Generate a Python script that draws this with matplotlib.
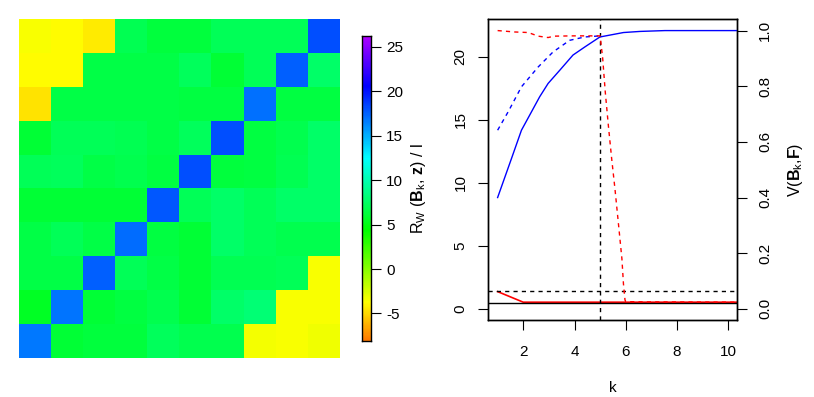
import numpy as np
import matplotlib
matplotlib.use("Agg")
import matplotlib.pyplot as plt
from matplotlib.colors import ListedColormap, hsv_to_rgb

plt.rcParams['font.family'] = ['Liberation Sans', 'DejaVu Sans']
plt.rcParams['mathtext.fontset'] = 'custom'
plt.rcParams['mathtext.rm'] = 'Liberation Sans'
plt.rcParams['mathtext.bf'] = 'Liberation Sans:bold'
plt.rcParams['mathtext.it'] = 'Liberation Sans'

# heatmap values, rows from top to bottom
R_matrix = [
    [-3.6, -3.9, -4.4, 7.0, 6.3, 6.3, 7.1, 7.1, 7.1, 18.1],
    [-3.9, -3.9, 6.6, 6.6, 6.6, 7.3, 6.0, 7.1, 17.5, 7.65],
    [-4.7, 6.6, 6.6, 6.6, 6.6, 6.5, 6.5, 17.0, 6.5, 6.5],
    [6.0, 7.1, 7.1, 7.0, 6.6, 7.2, 18.1, 6.5, 6.8, 7.6],
    [7.1, 7.2, 6.6, 6.8, 6.5, 18.1, 6.3, 6.5, 7.0, 7.6],
    [6.0, 6.0, 6.0, 6.0, 17.8, 7.1, 7.6, 7.1, 7.6, 7.65],
    [6.6, 7.1, 6.6, 17.2, 6.5, 6.0, 7.6, 7.1, 6.8, 6.8],
    [6.6, 6.6, 17.5, 7.1, 6.6, 6.0, 7.0, 7.0, 7.1, -3.6],
    [5.5, 16.9, 6.0, 6.5, 6.8, 6.0, 7.65, 8.1, -3.6, -3.6],
    [16.8, 6.0, 6.3, 6.3, 7.3, 6.8, 6.8, -3.5, -3.6, -3.4],
]
zmin, zmax = -8.1, 26.2
cbar_ticks = [-5, 0, 5, 10, 15, 20, 25]

# right panel curves (V on right axis)
k_solid = [1.0, 1.54, 1.93, 2.25, 2.64, 2.97, 3.43, 3.94, 4.4, 4.99, 5.91, 6.56, 7.53, 8.5, 10.36]
v_solid = [0.40, 0.54, 0.642, 0.696, 0.762, 0.81, 0.858, 0.912, 0.941, 0.977, 0.993, 0.997, 1.0, 1.0, 1.0]
k_dash = [1.0, 1.41, 1.93, 2.58, 3.16, 3.81, 4.4, 5.0]
v_dash = [0.642, 0.708, 0.798, 0.869, 0.923, 0.965, 0.977, 0.981]
k_red = [1.0, 1.67, 2.2, 2.58, 2.97, 3.2, 3.97, 5.0, 5.1, 5.2, 5.32, 5.45, 5.58, 5.71,
         5.85, 5.91, 5.97, 6.0, 6.8, 10.36]
v_red = [1.0, 0.995, 0.993, 0.98, 0.975, 0.98, 0.981, 0.981, 0.90, 0.78, 0.66, 0.54, 0.43, 0.31,
         0.18, 0.09, 0.032, 0.026, 0.025, 0.024]
# red solid on left axis
k_thr = [1, 2, 3, 4, 5, 6, 7, 8, 9, 10.36]
r_thr = [1.37, 0.53, 0.53, 0.53, 0.53, 0.53, 0.53, 0.53, 0.53, 0.53]
h_solid = 0.45
h_dash = 1.43
k_sel = 5

hues = np.linspace(0.08, 0.78, 256)
cmap = ListedColormap(hsv_to_rgb(np.column_stack([hues, np.ones(256), np.ones(256)])))

fig = plt.figure(figsize=(8.14, 3.97), dpi=100)

ax1 = fig.add_axes([0.0233, 0.099, 0.3943, 0.853])
ax1.imshow(np.array(R_matrix), cmap=cmap, vmin=zmin, vmax=zmax, aspect='auto',
           interpolation='nearest')
ax1.axis('off')

cax = fig.add_axes([0.4444, 0.141, 0.011, 0.768])
grad = np.linspace(zmin, zmax, 300).reshape(-1, 1)
cax.imshow(grad, cmap=cmap, vmin=zmin, vmax=zmax, aspect='auto', origin='lower',
           extent=[0, 1, zmin, zmax])
cax.set_xticks([])
cax.yaxis.tick_right()
cax.set_yticks(cbar_ticks)
cax.set_yticklabels([str(t) for t in cbar_ticks], fontsize=11)
cax.tick_params(axis='y', length=7, pad=4, width=0.8)
for s in cax.spines.values():
    s.set_linewidth(1.0)
fig.text(0.514, 0.525,
         r'$\mathregular{R_W\ (}\mathbf{B}_k\mathregular{,\,}\mathbf{z}\mathregular{)\ /\ l}$',
         rotation=90, ha='center', va='center', fontsize=11.5)

ax2 = fig.add_axes([0.600, 0.194, 0.306, 0.757])
ax2.set_xlim(0.64, 10.36)
ax2.set_ylim(-0.88, 22.94)
ax3 = ax2.twinx()
ax3.set_ylim(-0.04, 1.04)

ax3.plot(k_solid, v_solid, color='blue', lw=1.0)
ax3.plot(k_dash, v_dash, color='blue', lw=1.0, ls=(0, (3, 3)))
ax3.plot(k_red, v_red, color='red', lw=1.0, ls=(0, (3, 3)))
ax2.plot(k_thr, r_thr, color='red', lw=1.2)
ax2.axhline(h_solid, color='black', lw=1.0)
ax2.axhline(h_dash, color='black', lw=1.0, ls=(0, (3, 3)))
ax2.axvline(k_sel, color='black', lw=1.0, ls=(0, (3, 3)))

ax2.set_xticks([2, 4, 6, 8, 10])
ax2.set_yticks([0, 5, 10, 15, 20])
ax2.set_yticklabels(['0', '5', '10', '15', '20'], rotation=90, va='center')
ax3.set_yticks([0, 0.2, 0.4, 0.6, 0.8, 1.0])
ax3.set_yticklabels(['0.0', '0.2', '0.4', '0.6', '0.8', '1.0'], rotation=90, va='center')
for a in (ax2, ax3):
    a.tick_params(length=7, width=0.8, labelsize=11, pad=8)
    for s in a.spines.values():
        s.set_linewidth(1.0)
ax2.tick_params(axis='x', pad=11)
ax2.set_xlabel('k', fontsize=11, labelpad=16)
ax3.set_ylabel(r'$\mathregular{V(}\mathbf{B}_k\mathregular{,}\mathbf{F}\mathregular{)}$',
               fontsize=11.5, labelpad=10)

fig.savefig('out.png', dpi=100)
